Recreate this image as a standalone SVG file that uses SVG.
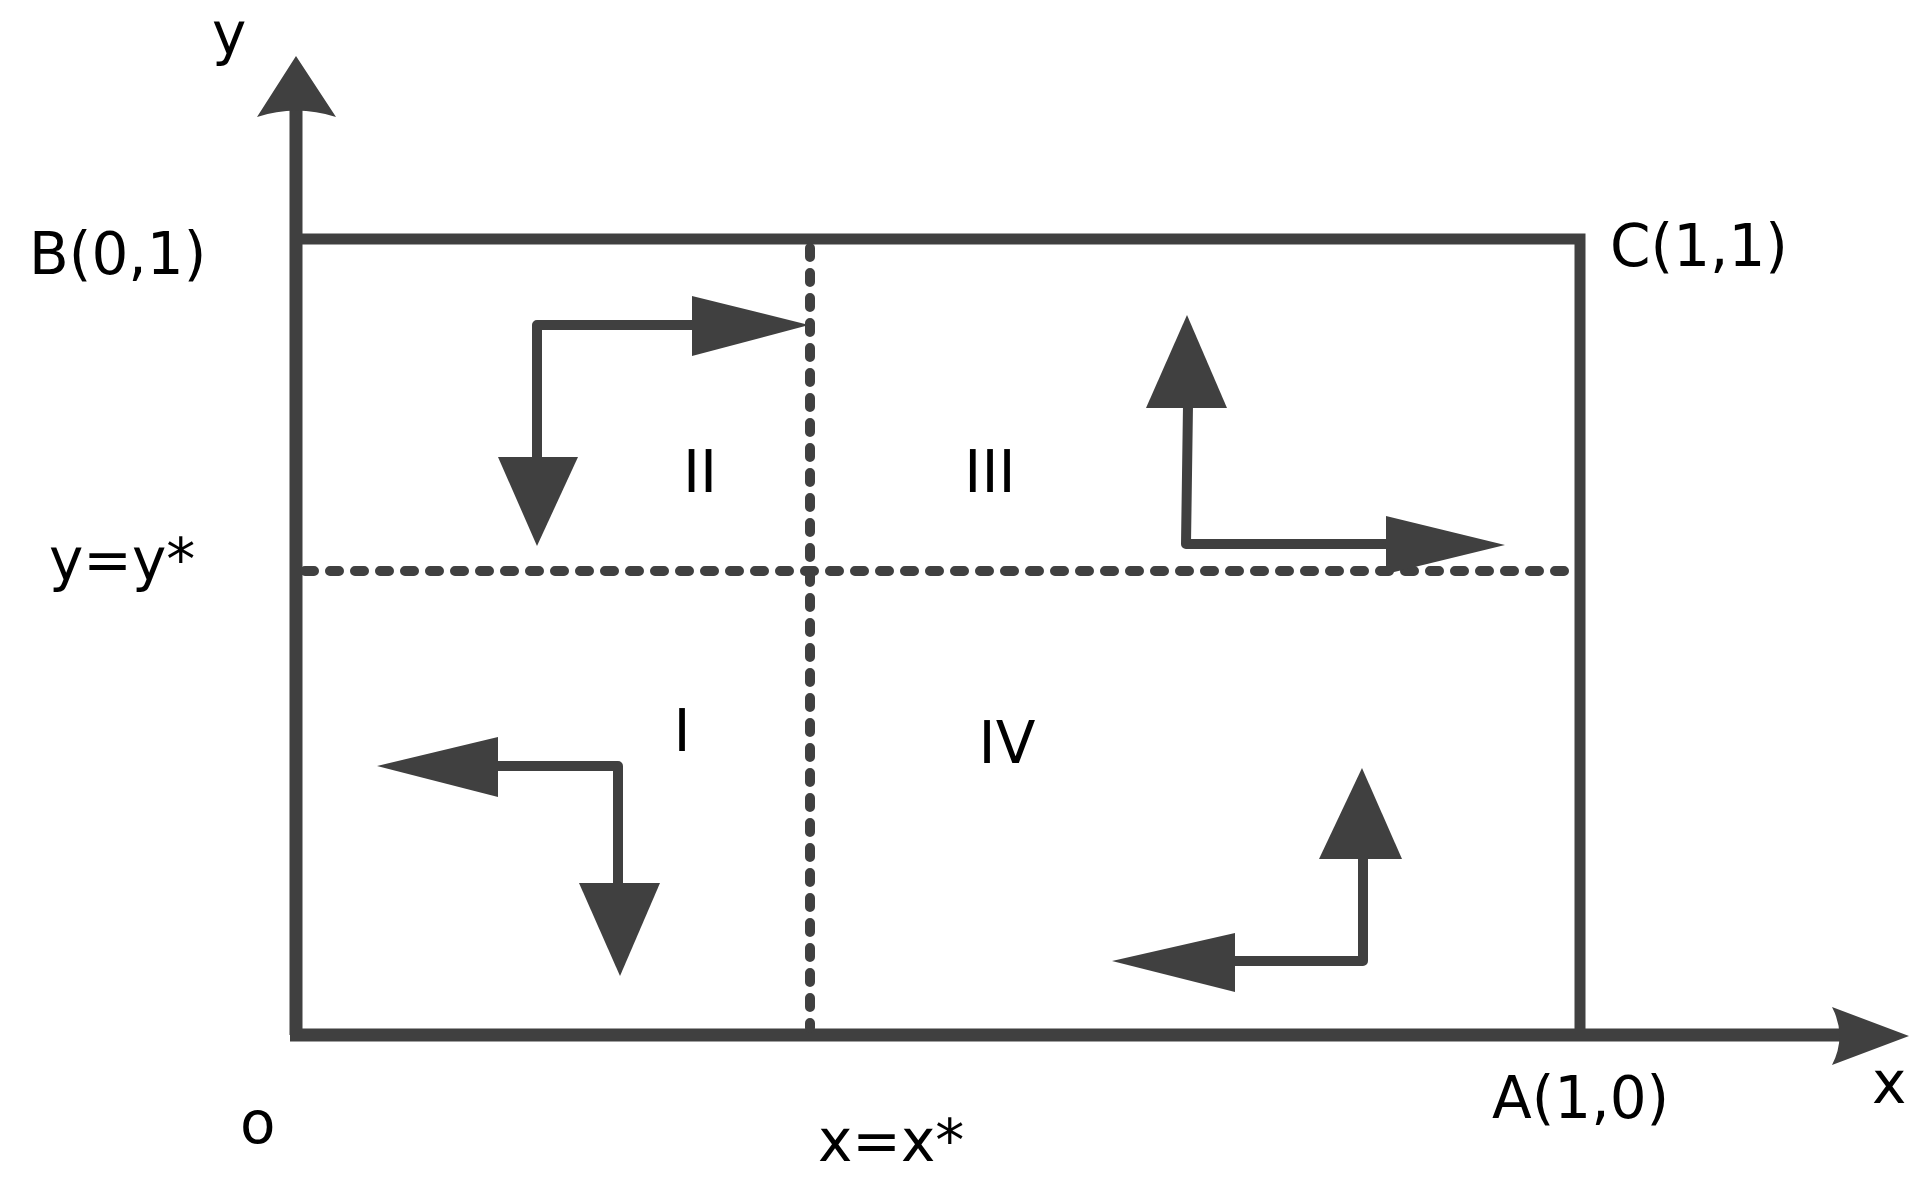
<svg xmlns="http://www.w3.org/2000/svg" width="1927" height="1182" viewBox="0 0 1927 1182">
<style>
.ln{stroke:#404040;fill:none;stroke-width:11}
.ar{stroke:#404040;fill:none;stroke-width:10;stroke-linejoin:round}
.dt{stroke:#404040;fill:none;stroke-width:10;stroke-linecap:round;stroke-dasharray:9 16}
.hd{fill:#404040}
text{font-family:"DejaVu Sans","Open Sans",sans-serif;font-size:58px;fill:#000}
</style>
<rect width="1927" height="1182" fill="#fff"/>
<g id="axes">
<line class="ln" x1="296" y1="1035" x2="296" y2="110" style="stroke-width:13"/>
<path class="hd" d="M296 56 L336 117 Q296 104 257 117 Z"/>
<line class="ln" x1="290" y1="1035" x2="1840" y2="1035" style="stroke-width:13"/>
<path class="hd" d="M1909 1036 L1832 1007 Q1847 1036 1832 1065 Z"/>
</g>
<g id="box">
<polyline class="ln" points="296,239 1580,239 1580,1035"/>
</g>
<g id="dividers">
<line class="dt" x1="305" y1="571" x2="1574" y2="571"/>
<line class="dt" x1="810" y1="248" x2="810" y2="1028"/>
</g>
<g id="connectors">
<g id="arrows-II">
<polyline class="ar" points="537,460 537,325 695,325"/>
<path class="hd" d="M809 325 L692 296 L692 356 Z"/>
<path class="hd" d="M537 546 L498 457 L578 457 Z"/>
</g>
<g id="arrows-III">
<polyline class="ar" points="1188,405 1186,544 1390,544"/>
<path class="hd" d="M1187 315 L1146 408 L1227 408 Z"/>
<path class="hd" d="M1505 545 L1386 516 L1386 574 Z"/>
</g>
<g id="arrows-I">
<polyline class="ar" points="495,766 618,766 618,886"/>
<path class="hd" d="M377 766 L498 737 L498 797 Z"/>
<path class="hd" d="M620 976 L579 883 L660 883 Z"/>
</g>
<g id="arrows-IV">
<polyline class="ar" points="1363,855 1363,961 1232,961"/>
<path class="hd" d="M1362 768 L1319 859 L1402 859 Z"/>
<path class="hd" d="M1112 961 L1235 933 L1235 992 Z"/>
</g>
</g>
<g id="labels">
<text x="212" y="54">y</text>
<text x="29" y="274">B(0,1)</text>
<text x="1610" y="266">C(1,1)</text>
<text x="49" y="580">y=y*</text>
<text x="240" y="1143">o</text>
<text x="818" y="1161">x=x*</text>
<text x="1492" y="1118">A(1,0)</text>
<text x="1872" y="1103">x</text>
<text x="700" y="492" text-anchor="middle">II</text>
<text x="990" y="492" text-anchor="middle">III</text>
<text x="682" y="751" text-anchor="middle">I</text>
<text x="1007" y="763" text-anchor="middle">IV</text>
</g>
</svg>
